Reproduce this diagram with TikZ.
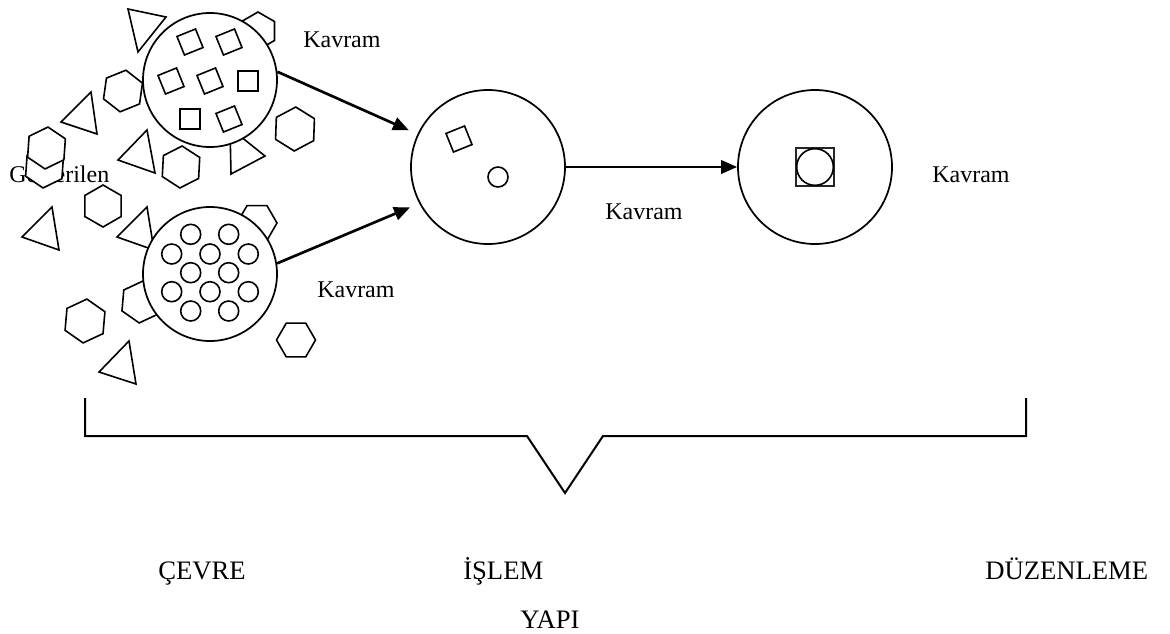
\documentclass[tikz,border=0pt]{standalone}
\usepackage{fontspec}
\setmainfont{Liberation Serif}
\usetikzlibrary{arrows.meta}
\newcommand\hexshape[4]{\draw[shp] (#1,#2) +(#4:#3) -- +(#4+60:#3) -- +(#4+120:#3) -- +(#4+180:#3) -- +(#4+240:#3) -- +(#4+300:#3) -- cycle;}
\newcommand\trishape[6]{\draw[shp] (#1,#2) -- (#3,#4) -- (#5,#6) -- cycle;}
\begin{document}
\begin{tikzpicture}[x=0.75pt,y=-0.75pt,
  shp/.style={draw=black, line width=1.2pt, fill=white, line join=miter},
  big/.style={circle, draw=black, line width=1.3pt, fill=white, inner sep=0pt},
  sq/.style={draw=black, line width=1.2pt, fill=white, minimum size=15pt, inner sep=0pt},
  dot/.style={circle, draw=black, line width=1.2pt, fill=white, minimum size=15pt, inner sep=0pt},
  lbl/.style={anchor=base west, inner sep=0pt, font=\fontsize{18}{20}\selectfont},
  biglbl/.style={anchor=base west, inner sep=0pt, font=\fontsize{20}{24}\selectfont},
  arr/.style={line width=2pt, -{Triangle[length=12pt,width=10pt]}},
  brace/.style={line width=1.5pt, line join=miter},
]
\useasboundingbox (0,0) rectangle (1170,633);

% label partly hidden by shapes
\node[lbl] (gos) at (9,182) {Gösterilen};

% scattered triangles
\trishape{128}{9}{166}{17}{138}{52}
\trishape{91}{92}{97}{134}{61}{122}
\trishape{147}{130}{155}{173}{118}{160}
\trishape{230}{128}{231}{174}{265}{156}
\trishape{52}{207}{59}{250}{22}{237}
\trishape{147}{207}{154}{250}{117}{237}
\trishape{129}{341}{136}{384}{99}{372}

% scattered hexagons
\hexshape{258}{31}{19}{-30}
\hexshape{123}{91}{21}{-82}
\hexshape{44.5}{167}{21}{-86}
\hexshape{46.5}{148}{21}{-86}
\hexshape{181}{167}{21}{-87}
\hexshape{295}{129}{22}{-88}
\hexshape{103}{206}{21}{-90}
\hexshape{257}{223}{20}{0}
\hexshape{141}{302}{21}{-85}
\hexshape{85}{321}{22}{-85}
\hexshape{296}{340}{19.5}{0}

% big circles
\node[big, minimum size=100.5pt] (topc) at (210,80) {};
\node[big, minimum size=100.5pt] (botc) at (210,274) {};
\node[big, minimum size=115.5pt] (mid) at (488,167) {};
\node[big, minimum size=115.5pt] (rgt) at (815,167) {};

% squares in top circle
\node[sq, rotate=22] (s1) at (190,42) {};
\node[sq, rotate=22] (s2) at (229,42) {};
\node[sq, rotate=22] (s3) at (171,81) {};
\node[sq, rotate=22] (s4) at (210,81) {};
\node[sq] (s5) at (248,81) {};
\node[sq] (s6) at (190,119) {};
\node[sq, rotate=22] (s7) at (229,119) {};

% circles in bottom circle
\node[dot] (c1) at (190.7,234.3) {};
\node[dot] (c2) at (228.7,234.3) {};
\node[dot] (c3) at (171.7,254) {};
\node[dot] (c4) at (210,254) {};
\node[dot] (c5) at (248.3,254) {};
\node[dot] (c6) at (190.7,272.7) {};
\node[dot] (c7) at (228.7,272.7) {};
\node[dot] (c8) at (171.7,291.7) {};
\node[dot] (c9) at (210,291.7) {};
\node[dot] (c10) at (248.3,291.7) {};
\node[dot] (c11) at (190.7,311) {};
\node[dot] (c12) at (228.7,311) {};

% middle circle content
\node[sq, rotate=22] (ms) at (459,139) {};
\node[dot] (md) at (498,177) {};

% right circle content
\node[sq, minimum size=29pt, line width=1.5pt, draw=black!85] (rs) at (815,167) {};
\node[dot, minimum size=27.5pt] (rd) at (815,167) {};

% arrows
\draw[arr, shorten >=7pt] (topc.7) -- (mid.155);
\draw[arr, shorten >=7.5pt] (botc.9) -- (mid.208);
\draw[arr] (mid.east) -- (rgt.west);

% labels
\node[lbl] (k1) at (303,47) {Kavram};
\node[lbl] (k2) at (317,297) {Kavram};
\node[lbl] (k3) at (605,219) {Kavram};
\node[lbl] (k4) at (932,182) {Kavram};

% brace
\draw[brace] (85,398) -- (85,436) -- (527,436) -- (565,493) -- (603,436) -- (1026,436) -- (1026,398);

% bottom labels
\node[biglbl] (cevre) at (158,579) {ÇEVRE};
\node[biglbl] (islem) at (463,579) {İŞLEM};
\node[biglbl] (duz) at (985,579) {DÜZENLEME};
\node[biglbl] (yapi) at (520,628) {YAPI};
\end{tikzpicture}
\end{document}
